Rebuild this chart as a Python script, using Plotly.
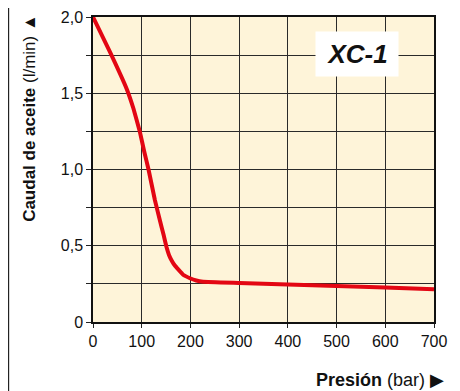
import plotly.graph_objects as go

# caudal de aceite vs presion
presion = [0, 35, 69, 83, 96, 105, 114, 127, 137, 145, 151, 156, 162, 168, 175, 185, 199, 212, 226, 300, 400, 500, 600, 700]
caudal = [2.0, 1.77, 1.53, 1.40, 1.25, 1.12, 1.0, 0.80, 0.67, 0.57, 0.49, 0.44, 0.40, 0.37, 0.345, 0.31, 0.287, 0.272, 0.264, 0.256, 0.246, 0.236, 0.226, 0.214]

x_ticks = [0, 100, 200, 300, 400, 500, 600, 700]
y_ticks = [0, 0.25, 0.5, 0.75, 1.0, 1.25, 1.5, 1.75, 2.0]
y_labels = ["0", "", "0,5", "", "1,0", "", "1,5", "", "2,0"]

sans = "Liberation Sans, Arial, sans-serif"

fig = go.Figure()
fig.add_trace(go.Scatter(
    x=presion, y=caudal, mode="lines",
    line=dict(color="#e30613", width=4, shape="spline", smoothing=0.25),
    hoverinfo="skip",
))

fig.update_xaxes(
    range=[0, 700], tickvals=x_ticks, ticks="outside", ticklen=4,
    tickcolor="#222", showgrid=True, gridcolor="#2a2a2a", gridwidth=1,
    showline=True, linecolor="#111", linewidth=1.5, mirror=True,
    zeroline=False, tickfont=dict(size=16, color="#111", family=sans),
)
fig.update_yaxes(
    range=[0, 2.0], tickvals=y_ticks, ticktext=y_labels, ticks="outside",
    ticklen=5, tickcolor="#222", showgrid=True, gridcolor="#2a2a2a",
    gridwidth=1, showline=True, linecolor="#111", linewidth=1.5, mirror=True,
    zeroline=False, tickfont=dict(size=16, color="#111", family=sans),
)

fig.add_annotation(
    x=542, y=1.76, text="<b><i>XC-1</i></b>", showarrow=False,
    font=dict(size=26, color="#111", family=sans),
    bgcolor="white", borderpad=7, width=68,
)
fig.add_annotation(
    xref="paper", yref="paper", x=-0.185, y=0.669, textangle=-90,
    xanchor="center", yanchor="middle",
    text="<b>Caudal de aceite</b> (l/min) \u25B2", showarrow=False,
    font=dict(size=17, color="#111", family=sans),
)
fig.add_annotation(
    xref="paper", yref="paper", x=1.035, y=-0.19, xanchor="right",
    yanchor="middle",
    text="<b>Presión</b> (bar) \u25B6", showarrow=False,
    font=dict(size=18, color="#111", family=sans),
)
# frame line on the left edge of the figure
fig.add_shape(
    type="line", xref="paper", yref="paper", x0=-0.248, x1=-0.248,
    y0=-0.26, y1=1.04, line=dict(color="#222", width=1.5),
)

# the page body has an 8px margin, so the margins are shifted to compensate
fig.update_layout(
    width=460, height=391,
    margin=dict(l=85, r=34, t=9, b=77, autoexpand=False),
    plot_bgcolor="#fef4d9", paper_bgcolor="white",
    showlegend=False,
)

fig.write_html("out.html")
